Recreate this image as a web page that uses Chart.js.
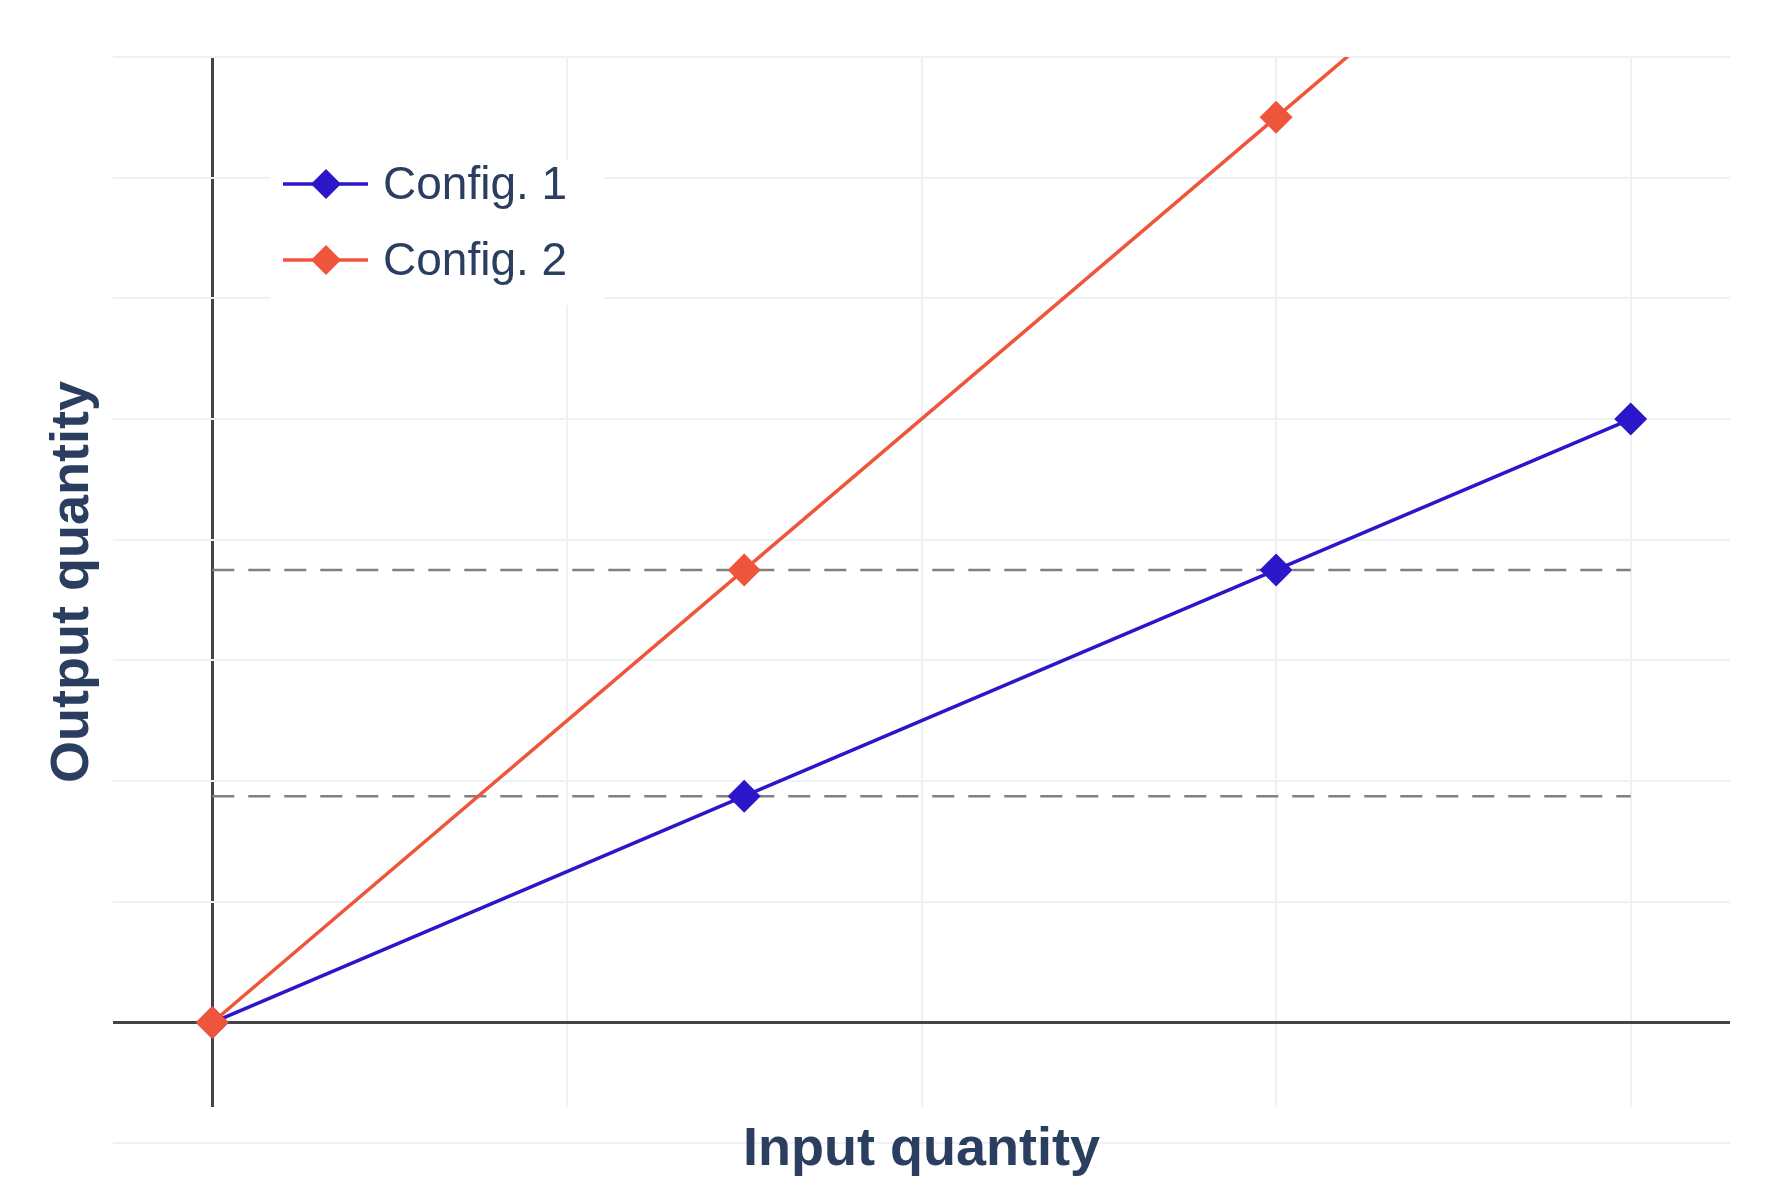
<!DOCTYPE html>
<html><head><meta charset="utf-8">
<script src="https://cdn.jsdelivr.net/npm/chart.js@4"></script>
<style>html,body{margin:0;padding:0;background:#fff}#w{width:1781px;height:1200px}</style>
</head><body><div id="w"><canvas id="c"></canvas></div>
<script>
const inputX = [0, 1.5, 3, 4];
const config1Y = [0, 1.875, 3.75, 5];
const config2Y = [0, 3.75, 7.5, 10];
const refLevels = [1.875, 3.75];
const seriesNames = ['Config. 1', 'Config. 2'];
const xTitle = 'Input quantity';
const yTitle = 'Output quantity';
const gridX = [0, 1, 2, 3, 4];
const gridY = [-1, 0, 1, 2, 3, 4, 5, 6, 7, 8];

const colors = ['#2B17C9', '#EF553B'];
const pts = ys => inputX.map((x, i) => ({x, y: ys[i]}));
const datasets = [
  ...refLevels.map(v => ({label: '_ref', data: [{x: 0, y: v}, {x: 4, y: v}], borderColor: '#808080',
    borderWidth: 2.5, borderDash: [22, 14], pointRadius: 0, order: 3})),
  {label: seriesNames[0], data: pts(config1Y), borderColor: colors[0], backgroundColor: colors[0],
    borderWidth: 3.5, pointStyle: 'rectRot', pointRadius: 14, order: 1},
  {label: seriesNames[1], data: pts(config2Y), borderColor: colors[1], backgroundColor: colors[1],
    borderWidth: 3.5, pointStyle: 'rectRot', pointRadius: 14, order: 0}
];

const gridCol = c => c.tick && c.tick.value === 0 ? '#444444' : '#EDF1F8';
const gridW = c => c.tick && c.tick.value === 0 ? 3 : 2;

const deco = {
  id: 'deco',
  afterDraw(chart) {
    const g = chart.ctx, a = chart.chartArea;
    g.save();
    g.fillStyle = '#2A3F5F';
    g.font = 'bold 54px "Liberation Sans", Arial, sans-serif';
    g.textAlign = 'center'; g.textBaseline = 'middle';
    g.fillText(xTitle, (a.left + a.right) / 2, 1150);
    g.translate(73, (a.top + a.bottom) / 2);
    g.rotate(-Math.PI / 2);
    g.fillText(yTitle, 0, 0);
    g.restore();
    // legend
    g.save();
    g.fillStyle = '#ffffff';
    g.fillRect(270, 160, 335, 145);
    const rows = [184, 260];
    chart.data.datasets.filter(d => d.label !== '_ref').forEach((d, i) => {
      const y = rows[i];
      g.strokeStyle = d.borderColor; g.lineWidth = 3.5;
      g.beginPath(); g.moveTo(283, y); g.lineTo(368, y); g.stroke();
      g.fillStyle = d.borderColor;
      g.beginPath(); g.moveTo(326, y - 15); g.lineTo(341, y); g.lineTo(326, y + 15); g.lineTo(311, y); g.closePath(); g.fill();
      g.fillStyle = '#2A3F5F';
      g.font = '46px "Liberation Sans", Arial, sans-serif';
      g.textAlign = 'left'; g.textBaseline = 'middle';
      g.fillText(d.label, 383, y + 2);
    });
    g.restore();
  }
};

new Chart(document.getElementById('c'), {
  type: 'line',
  data: {datasets},
  options: {
    responsive: true, maintainAspectRatio: false, animation: false,
    layout: {padding: {left: 113, right: 51, top: 57, bottom: 93}},
    plugins: {legend: {display: false}, tooltip: {enabled: false}},
    scales: {
      x: {type: 'linear', min: -0.28, max: 4.28,
        afterBuildTicks: s => { s.ticks = gridX.map(v => ({value: v})); },
        ticks: {display: false}, border: {display: false},
        grid: {color: gridCol, lineWidth: gridW, drawTicks: false}},
      y: {type: 'linear', min: -0.7, max: 8.0,
        afterBuildTicks: s => { s.ticks = gridY.map(v => ({value: v})); },
        ticks: {display: false}, border: {display: false},
        grid: {color: gridCol, lineWidth: gridW, drawTicks: false}}
    }
  },
  plugins: [deco]
});
</script></body></html>
